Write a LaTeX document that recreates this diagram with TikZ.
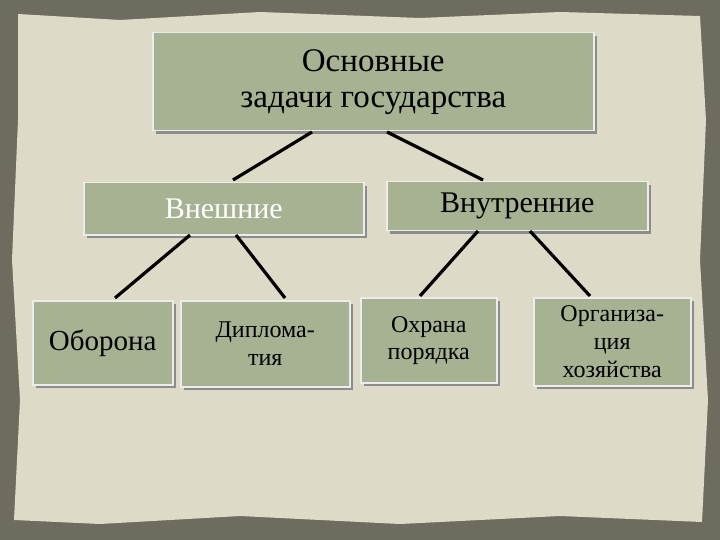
\documentclass[tikz,border=0pt]{standalone}
\usepackage{fontspec}
\setmainfont{Liberation Serif}
\usetikzlibrary{calc}
\definecolor{bgdark}{HTML}{6E6C5E}
\definecolor{parch}{HTML}{DEDAC8}
\definecolor{boxfill}{HTML}{A6B292}
\tikzset{
  box/.style={draw=white!85!gray, line width=1.5pt, fill=boxfill, align=center, inner sep=0pt, anchor=north west},
  con/.style={line width=3.2pt, black}
}
\begin{document}
\begin{tikzpicture}[x=1pt,y=-1pt]
\useasboundingbox (0,0) rectangle (720,540);
\fill[bgdark] (0,0) rectangle (720,540);
\fill[parch] (18,14) -- (120,20) -- (260,12) -- (420,18) -- (560,12) -- (700,16) -- (706,120) -- (700,260) -- (708,400) -- (702,522) -- (560,516) -- (400,524) -- (240,516) -- (100,524) -- (14,520) -- (20,400) -- (12,260) -- (18,120) -- cycle;
\foreach \x/\y/\w/\h in {152/32/441/98, 83/182/280/52, 386/181/261/49, 32/300/140/84, 180/300/169/86, 360/297/136/85, 533/297/157/88}
  \fill[black!45] (\x+4,\y+4) rectangle ++(\w,\h);
\node[box, minimum width=441pt, minimum height=98pt, font=\fontsize{33}{36}\selectfont] (top) at (152,32) {Основные\\задачи государства};
\node[box, minimum width=280pt, minimum height=52pt, font=\fontsize{30}{34}\selectfont, text=white] (ext) at (83,182) {Внешние};
\node[box, minimum width=261pt, minimum height=49pt, font=\fontsize{30}{34}\selectfont] (int) at (386,181) {Внутренние};
\node[box, minimum width=140pt, minimum height=84pt, font=\fontsize{29}{34}\selectfont] (def) at (32,300) {Оборона};
\node[box, minimum width=169pt, minimum height=86pt, font=\fontsize{24}{28}\selectfont] (dip) at (180,300) {Диплома-\\тия};
\node[box, minimum width=136pt, minimum height=85pt, font=\fontsize{24}{27}\selectfont] (ord) at (360,297) {Охрана\\порядка};
\node[box, minimum width=157pt, minimum height=88pt, font=\fontsize{24}{28}\selectfont] (eco) at (533,297) {Организа-\\ция\\хозяйства};
\coordinate (t1) at (312,132); \coordinate (t2) at (387,132);
\coordinate (e0) at (233,180); \coordinate (i0) at (483,180);
\coordinate (e1) at (190,235); \coordinate (e2) at (236,235);
\coordinate (i1) at (478,231); \coordinate (i2) at (530,231);
\coordinate (d0) at (115,298); \coordinate (p0) at (285,298);
\coordinate (o0) at (420,296); \coordinate (h0) at (590,296);
\draw[con] (t1) -- (e0);
\draw[con] (t2) -- (i0);
\draw[con] (e1) -- (d0);
\draw[con] (e2) -- (p0);
\draw[con] (i1) -- (o0);
\draw[con] (i2) -- (h0);
\end{tikzpicture}
\end{document}
